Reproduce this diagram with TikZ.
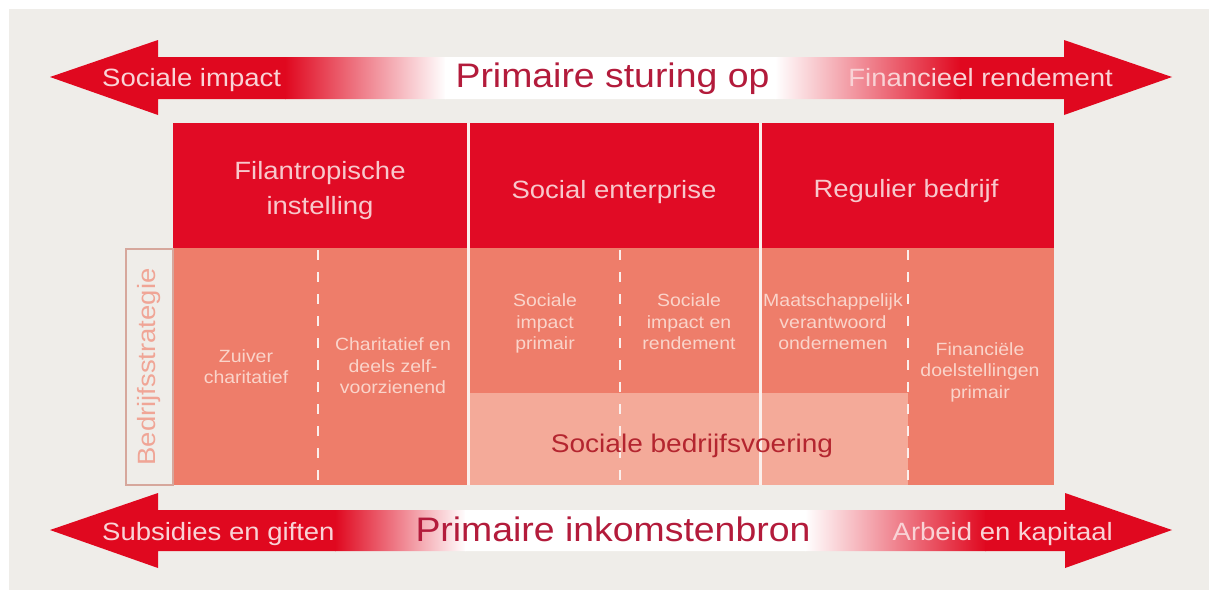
\documentclass[tikz,border=0pt]{standalone}
\usepackage{fontspec}
\setmainfont{Liberation Sans}[FakeStretch=1.1]
\definecolor{panelbg}{HTML}{EFEDE9}
\definecolor{arrowred}{HTML}{E0081F}
\definecolor{hdrred}{HTML}{E10B25}
\definecolor{cellsalmon}{HTML}{EE7D6A}
\definecolor{bandsalmon}{HTML}{F4AA99}
\definecolor{divwhite}{HTML}{FBEFEC}
\definecolor{boxline}{HTML}{D6A79C}
\definecolor{sidetext}{HTML}{F0A596}
\definecolor{endpink}{HTML}{F9D3D6}
\definecolor{midcrimson}{HTML}{B31B3B}
\definecolor{hdrpink}{HTML}{F8C8CC}
\definecolor{cellpink}{HTML}{FAD4CA}
\definecolor{bandtext}{HTML}{B4252F}
\begin{document}
\begin{tikzpicture}[x=1pt,y=-1pt,
  endlabel/.style={text=endpink,font=\fontsize{25}{30}\selectfont,inner sep=0pt},
  midlabel/.style={text=midcrimson,font=\fontsize{34}{40}\selectfont,inner sep=0pt,anchor=base},
  hdrlabel/.style={text=hdrpink,font=\fontsize{25}{35}\selectfont,align=center,inner sep=0pt},
  celllabel/.style={text=cellpink,font=\fontsize{17.7}{21.5}\selectfont,align=center,inner sep=0pt},
  colsep/.style={draw=divwhite,line width=2.2pt},
  celldash/.style={draw=divwhite,line width=2.4pt,dash pattern=on 10pt off 12pt},
]
\useasboundingbox (0,0) rectangle (1209,590);
\fill[white] (0,0) rectangle (1209,590);
\fill[panelbg] (9,9) rectangle (1209,590);

% top double arrow: red ends fading to white in the middle
\begin{scope}
  \clip (50,77) -- (158,40) -- (158,57) -- (1064,57) -- (1064,40) -- (1172,77)
        -- (1064,115) -- (1064,99) -- (158,99) -- (158,115) -- cycle;
  \fill[arrowred] (40,30) rectangle (286,125);
  \shade[left color=arrowred,right color=white] (285,30) rectangle (446,125);
  \fill[white] (445,30) rectangle (776,125);
  \shade[left color=white,right color=arrowred] (775,30) rectangle (961,125);
  \fill[arrowred] (960,30) rectangle (1180,125);
\end{scope}

% bottom double arrow
\begin{scope}
  \clip (50,530) -- (158,493) -- (158,510) -- (1065,510) -- (1065,493) -- (1172,530)
        -- (1065,568) -- (1065,551) -- (158,551) -- (158,568) -- cycle;
  \fill[arrowred] (40,485) rectangle (336,575);
  \shade[left color=arrowred,right color=white] (335,485) rectangle (466,575);
  \fill[white] (465,485) rectangle (806,575);
  \shade[left color=white,right color=arrowred] (805,485) rectangle (986,575);
  \fill[arrowred] (985,485) rectangle (1180,575);
\end{scope}

% table blocks
\fill[hdrred] (173,123) rectangle (1054,247.5);
\fill[cellsalmon] (173,247.5) rectangle (1054,485);
\fill[bandsalmon] (469,393) rectangle (908,485);

% side label box
\draw[boxline,line width=1.6pt,fill=panelbg] (125.8,249) rectangle (173,485);
\node[text=sidetext,font=\fontsize{25}{30}\selectfont,rotate=90,inner sep=0pt] (side) at (149,367) {Bedrijfsstrategie};

% column separators
\draw[colsep] (468.5,123) -- (468.5,485);
\draw[colsep] (760.5,123) -- (760.5,485);
\draw[celldash] (318,250) -- (318,485);
\draw[celldash] (620,250) -- (620,485);
\draw[celldash] (908,250) -- (908,485);

% arrow labels
\node[endlabel,anchor=base west] (soc) at (102,86) {Sociale impact};
\node[endlabel,anchor=base east] (fin) at (1113,86) {Financieel rendement};
\node[midlabel] (stur) at (612.5,87) {Primaire sturing op};
\node[endlabel,anchor=base west] (sub) at (102,540) {Subsidies en giften};
\node[endlabel,anchor=base east] (arb) at (1113,540) {Arbeid en kapitaal};
\node[midlabel] (ink) at (613,541) {Primaire inkomstenbron};

% header labels
\node[hdrlabel] (filan) at (320,191) {Filantropische\\instelling};
\node[hdrlabel,anchor=base] (socent) at (614,198) {Social enterprise};
\node[hdrlabel,anchor=base] (regul) at (906,197) {Regulier bedrijf};

% cell labels
\node[celllabel] (zuiver) at (246,366.5) {Zuiver\\charitatief};
\node[celllabel] (chari) at (393,366) {Charitatief en\\deels zelf-\\voorzienend};
\node[celllabel] (sip) at (545,323.5) {Sociale\\impact\\primair};
\node[celllabel] (sir) at (689,322) {Sociale\\impact en\\rendement};
\node[celllabel] (mvo) at (833,322) {Maatschappelijk\\verantwoord\\ondernemen};
\node[celllabel] (fdp) at (980,372) {Financiële\\doelstellingen\\primair};
\node[text=bandtext,font=\fontsize{25.5}{30}\selectfont,inner sep=0pt,anchor=base] (sbv) at (692,452) {Sociale bedrijfsvoering};
\end{tikzpicture}
\end{document}
